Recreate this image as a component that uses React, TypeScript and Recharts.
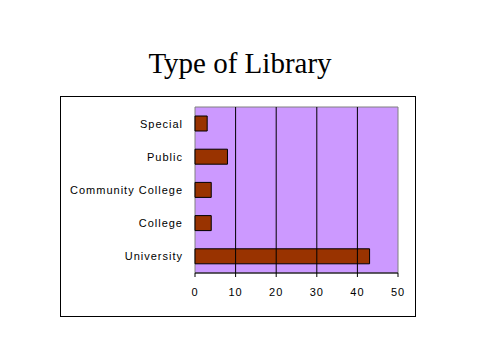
import {
  BarChart,
  Bar,
  XAxis,
  YAxis,
  ReferenceArea,
  ReferenceLine,
} from 'recharts'

const libraryTypes = ['Special', 'Public', 'Community College', 'College', 'University']
const counts = [3, 8, 4, 4, 43]
const xTicks = [0, 10, 20, 30, 40, 50]
const gridLines = [10, 20, 30, 40]
const bandEdges = [0, 1, 2, 3, 4, 5]

const data = libraryTypes.map((name, i) => ({ name, count: counts[i] }))

const labelFont = {
  fontFamily: 'Liberation Sans, Arial, sans-serif',
  fontSize: 11,
  letterSpacing: 1,
  fill: '#000',
}

export default function App() {
  return (
    <div style={{ position: 'absolute', left: 0, top: 0, width: 480, height: 360, background: '#fff' }}>
      <div
        style={{
          position: 'absolute',
          left: 0,
          top: 46,
          width: 480,
          textAlign: 'center',
          fontFamily: 'Liberation Serif, Times New Roman, serif',
          fontSize: 29,
          lineHeight: '34px',
        }}
      >
        Type of Library
      </div>

      {/* chart frame */}
      <div
        style={{
          position: 'absolute',
          left: 60,
          top: 96,
          width: 354,
          height: 219,
          border: '1px solid #000',
        }}
      >
        <BarChart
          layout="vertical"
          width={354}
          height={219}
          data={data}
          margin={{ top: 10, right: 17, left: 0, bottom: 0 }}
        >
          {/* boundary tick marks between categories */}
          <YAxis
            yAxisId="edges"
            type="number"
            domain={[0, 5]}
            ticks={bandEdges}
            width={0}
            tickSize={4}
            tickFormatter={() => ''}
            stroke="#000"
          />
          <YAxis
            yAxisId="cat"
            type="category"
            dataKey="name"
            width={134}
            axisLine={false}
            tickLine={false}
            tickSize={0}
            tickMargin={12}
            tick={labelFont}
          />
          <XAxis
            type="number"
            domain={[0, 50]}
            ticks={xTicks}
            height={43}
            tickSize={4}
            tickMargin={11}
            stroke="#000"
            tick={labelFont}
          />
          <ReferenceArea
            yAxisId="cat"
            x1={0}
            x2={50}
            fill="#CC99FF"
            fillOpacity={1}
            stroke="#808080"
            strokeWidth={1}
          />
          {gridLines.map((v) => (
            <ReferenceLine key={v} yAxisId="cat" x={v} stroke="#000" strokeWidth={1} />
          ))}
          <Bar
            yAxisId="cat"
            dataKey="count"
            fill="#993300"
            stroke="#000"
            strokeWidth={1}
            barSize={15}
            isAnimationActive={false}
          />
        </BarChart>
      </div>
    </div>
  )
}
